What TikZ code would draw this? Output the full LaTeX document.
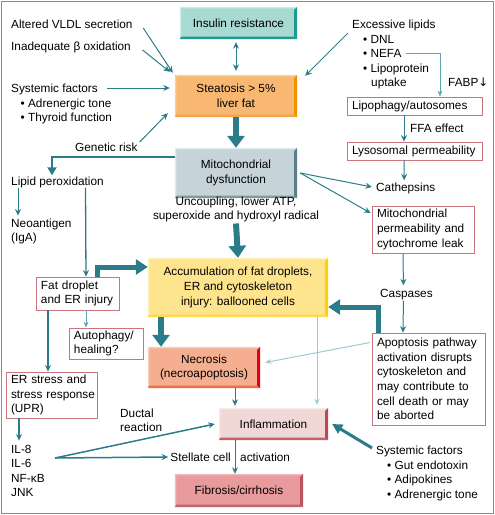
\documentclass[tikz,border=0pt]{standalone}
\usepackage{fontspec}
\setmainfont{Liberation Sans}
\newfontfamily\dejavu{DejaVu Sans}
\usetikzlibrary{arrows.meta,calc}
\definecolor{tealA}{HTML}{2A7C88}
\definecolor{tealL}{HTML}{5FA6B2}
\definecolor{tealVL}{HTML}{9CCAD2}
\definecolor{boxred}{HTML}{C8757D}
\definecolor{frameC}{HTML}{8C8C8C}
\definecolor{insF}{HTML}{A8D9D2}\definecolor{insD}{HTML}{1F9A8C}\definecolor{insL}{HTML}{CDEBE6}
\definecolor{steF}{HTML}{F9B871}\definecolor{steD}{HTML}{F39200}\definecolor{steB}{HTML}{F4A445}\definecolor{steL}{HTML}{FBD09C}
\definecolor{mitF}{HTML}{C6D4D9}\definecolor{mitD}{HTML}{5E7F8A}\definecolor{mitB}{HTML}{7F9AA3}\definecolor{mitL}{HTML}{E0E8EB}
\definecolor{accF}{HTML}{FFE48E}\definecolor{accD}{HTML}{FFD100}\definecolor{accB}{HTML}{FFD84D}\definecolor{accL}{HTML}{FFF0BC}
\definecolor{necF}{HTML}{F5AE90}\definecolor{necD}{HTML}{E2001A}\definecolor{necB}{HTML}{EF6F45}\definecolor{necL}{HTML}{F9CDB9}
\definecolor{infF}{HTML}{EFD8D5}\definecolor{infD}{HTML}{B94A52}\definecolor{infB}{HTML}{C2626A}\definecolor{infL}{HTML}{F7EAE8}
\definecolor{fibF}{HTML}{E89A9C}\definecolor{fibD}{HTML}{B95560}\definecolor{fibB}{HTML}{C0656D}\definecolor{fibL}{HTML}{F1BCBD}
\newcommand\bevelbox[4]{%
\fill[#4] (#1.north west) -- (#1.north east) -- ([xshift=-3pt,yshift=-1.5pt]#1.north east) -- ([xshift=1.5pt,yshift=-1.5pt]#1.north west) -- ([xshift=1.5pt,yshift=2.5pt]#1.south west) -- (#1.south west) -- cycle;
\fill[#3] (#1.south west) -- (#1.south east) -- ([xshift=-3pt,yshift=2.5pt]#1.south east) -- ([xshift=1.5pt,yshift=2.5pt]#1.south west) -- cycle;
\fill[#2] (#1.north east) -- (#1.south east) -- ([xshift=-3pt,yshift=2.5pt]#1.south east) -- ([xshift=-3pt,yshift=-3pt]#1.north east) -- cycle;
}
\begin{document}
\begin{tikzpicture}[x=1pt,y=-1pt,
  every node/.append style={font=\fontsize{11.8}{14.6}\selectfont, inner sep=0pt},
  lbl/.style={anchor=west, text height=8.5pt, text depth=0.5pt},
  mlbl/.style={anchor=north west, align=left},
  bbox/.style={align=center},
  rbox/.style={draw=boxred, line width=0.8pt, fill=white, align=left, inner xsep=5pt, inner ysep=2pt},
  arr/.style={draw=tealA, line width=1pt, -{Stealth[length=6.5pt,width=6pt]}},
  arrboth/.style={draw=tealA, line width=1pt, {Stealth[length=6.5pt,width=6pt]}-{Stealth[length=6.5pt,width=6pt]}},
  arrl/.style={draw=tealL, line width=0.8pt, -{Stealth[length=6pt,width=5pt]}},
  arrvl/.style={draw=tealVL, line width=1pt, -{Stealth[length=6pt,width=5pt]}},
  bigarr/.style={draw=tealA, line width=6pt, -{Triangle[length=12pt,width=17pt]}},
  bigarrb/.style={draw=tealA, line width=5pt, line join=miter, -{Triangle[length=12pt,width=15pt]}},
  medarr/.style={draw=tealA, line width=2.5pt, line join=miter, -{Triangle[length=8pt,width=9pt]}},
  medarrb/.style={draw=tealA, line width=3pt, -{Triangle[length=10pt,width=10pt]}}
]
\useasboundingbox (0,0) rectangle (495,515);
\draw[frameC, line width=1pt] (1,1) rectangle (493,513);

% main bevel boxes
\node[bbox, fill=insF, minimum width=117pt, minimum height=32pt] (ins) at (238.5,23) {Insulin resistance};
\bevelbox{ins}{insD}{insD}{insL}
\node[bbox, fill=steF, minimum width=122pt, minimum height=42pt] (stea) at (236,96) {Steatosis > 5\%\\liver fat};
\bevelbox{stea}{steD}{steB}{steL}
\node[bbox, fill=mitF, minimum width=122pt, minimum height=50pt] (mito) at (236,173) {Mitochondrial\\dysfunction};
\bevelbox{mito}{mitD}{mitB}{mitL}
\node[bbox, fill=accF, minimum width=180pt, minimum height=59pt] (acc) at (238,287.5) {Accumulation of fat droplets,\\ER and cytoskeleton\\injury: ballooned cells};
\bevelbox{acc}{accD}{accB}{accL}
\node[bbox, fill=necF, minimum width=112pt, minimum height=41pt] (nec) at (204,367.5) {Necrosis\\(necroapoptosis)};
\bevelbox{nec}{necD}{necB}{necL}
\node[bbox, fill=infF, minimum width=109pt, minimum height=32pt] (inf) at (273.5,424) {Inflammation};
\bevelbox{inf}{infD}{infB}{infL}
\node[bbox, fill=fibF, minimum width=128pt, minimum height=33pt] (fib) at (239,490.5) {Fibrosis/cirrhosis};
\bevelbox{fib}{fibD}{fibB}{fibL}

% outlined boxes
\node[rbox, text width=125pt, minimum height=18pt] (lipo) at (414.5,106) {Lipophagy/autosomes};
\node[rbox, text width=125pt, minimum height=18pt] (lyso) at (414.5,151) {Lysosomal permeability};
\node[rbox, text width=92pt, minimum height=47pt] (mperm) at (423,229.5) {\mbox{Mitochondrial}\\\mbox{permeability and}\\\mbox{cytochrome leak}};
\node[rbox, text width=103pt, minimum height=92pt] (apop) at (428.5,379) {\mbox{Apoptosis pathway}\\\mbox{activation disrupts}\\\mbox{cytoskeleton and}\\\mbox{may contribute to}\\\mbox{cell death or may}\\\mbox{be aborted}};
\node[rbox, text width=73pt, minimum height=33pt] (fatb) at (77.5,293.5) {\mbox{Fat droplet}\\\mbox{and ER injury}};
\node[rbox, text width=64pt, minimum height=31pt] (auto) at (106,343.5) {\mbox{Autophagy/}\\\mbox{healing?}};
\node[rbox, text width=81pt, minimum height=46pt] (er) at (51.5,395) {\mbox{ER stress and}\\\mbox{stress response}\\\mbox{(UPR)}};

% labels
\node[lbl] (vldl) at (11,24) {Altered VLDL secretion};
\node[lbl] (beta) at (11,46) {Inadequate β oxidation};
\node[lbl] (sysl) at (11,88) {Systemic factors};
\node[mlbl] (sysb) at (20.5,98.6) {• Adrenergic tone\\• Thyroid function};
\node[lbl] (gen) at (75,147) {Genetic risk};
\node[lbl] (lipid) at (11,181) {Lipid peroxidation};
\node[mlbl] (neo) at (11,218.6) {Neoantigen\\(IgA)};
\node[mlbl] (il) at (11,444.6) {IL-8\\IL-6\\NF-κB\\JNK};
\coordinate (ilc) at (55,458);
\node[mlbl] (duct) at (120,408.6) {Ductal\\reaction};
\node[lbl, anchor=east] (stel) at (231,457) {Stellate cell};
\node[lbl] (actv) at (240,457) {activation};
\node[align=center] (unc) at (236,209.5) {Uncoupling, lower ATP,\\superoxide and hydroxyl radical};
\node[lbl] (exl) at (352,24) {Excessive lipids};
\node[lbl] (dnl) at (363,39) {• DNL};
\node[lbl] (nefa) at (363,53) {• NEFA};
\node[lbl] (lipop) at (363,68) {• Lipoprotein};
\node[lbl] (upt) at (371,82) {uptake};
\node[lbl] (fabp) at (448,82) {FABP{\dejavu ↓}};
\node[lbl] (ffa) at (410,128) {FFA effect};
\node[lbl] (cath) at (376,187) {Cathepsins};
\node[lbl] (casp) at (380,293) {Caspases};
\node[lbl] (sysr) at (376,450) {Systemic factors};
\node[mlbl] (sysrb) at (387,460.6) {• Gut endotoxin\\• Adipokines\\• Adrenergic tone};

% connectors
\draw[arr] ([xshift=10.5pt,yshift=-4pt]vldl.east) -- ([xshift=-2pt,yshift=2pt]stea.north west);
\draw[arr] ([xshift=11.5pt,yshift=-4pt]beta.east) -- ([xshift=-5pt,yshift=3pt]stea.north west);
\draw[arr] ([xshift=9pt]sysl.east) -- ([xshift=-5pt,yshift=8pt]stea.west);
\draw[arr] ([xshift=2pt,yshift=5pt]gen.east) -- ([xshift=-7pt,yshift=4pt]stea.south west);
\draw[arrboth] ([xshift=-2.5pt,yshift=-3pt]ins.south) -- ([yshift=4pt]stea.north);
\draw[arr] ([xshift=-4pt,yshift=-9pt]exl.west) -- ([xshift=8pt,yshift=-1pt]stea.north east);
\draw[bigarr] (stea.south) -- (mito.north);
\draw[medarr] ([yshift=16pt]mito.west) -| ([xshift=41pt,yshift=1pt]lipid.north west);
\draw[arr] ([xshift=7pt,yshift=-2pt]lipid.south west) -- ([xshift=7pt,yshift=3pt]neo.north west);
\draw[arr, line width=1.3pt] ([xshift=74.5pt,yshift=-2pt]lipid.south west) -- ([xshift=8.5pt]fatb.north);
\draw[bigarrb] ([xshift=19.5pt]fatb.north) |- ([yshift=20.5pt]acc.west);
\draw[arrl] ([xshift=8.5pt]fatb.south) -- ([xshift=-20pt]auto.north);
\draw[arr, line width=2pt] ([xshift=-29.5pt]fatb.south) -- ([xshift=-3.5pt]er.north);
\draw[arr, line width=1.5pt] ([xshift=-32.5pt]er.south) -- ([xshift=8pt,yshift=4pt]il.north west);
\draw[arr, line width=1.5pt] (ilc) -- ([xshift=-2pt]stel.west);
\draw[arr, line width=1.5pt] (ilc) -- ([xshift=-4pt]inf.west);
\draw[bigarr] ([yshift=-1pt]unc.south) -- (acc.north);
\draw[bigarr] ([xshift=-77pt]acc.south) -- ([xshift=-43pt]nec.north);
\draw[arrvl] ([xshift=79pt]acc.south) -- ([xshift=43.5pt,yshift=3pt]inf.north);
\draw[arr, line width=0.7pt] ([xshift=31pt]nec.south) -- ([xshift=-38.5pt,yshift=2pt]inf.north);
\draw[arr, line width=0.7pt] ([xshift=-38.5pt]inf.south) -- ([xshift=-4pt]fib.north);
\draw[medarrb] ([xshift=-4pt,yshift=2pt]sysr.west) -- ([xshift=4pt]inf.east);
\draw[arrvl] ([xshift=-2pt,yshift=-10pt]apop.north west) -- ([xshift=5pt,yshift=5pt]nec.east);
\draw[bigarrb] ([xshift=-50.5pt]apop.north) |- ([yshift=-19.5pt]acc.east);
\draw[arr] ([xshift=3pt]mito.east) -- ([xshift=-4pt]cath.west);
\draw[arr] ([xshift=3pt]mito.east) -- ([xshift=-1pt,yshift=16.5pt]mperm.west);
\draw[arr] ([xshift=-10.5pt]lipo.south) -- ([xshift=-10.5pt]lyso.north);
\draw[arr] ([xshift=-10.5pt]lyso.south) -- ([xshift=-1.5pt,yshift=2pt]cath.north);
\draw[arr] ([xshift=-20pt]mperm.south) -- ([xshift=-3pt,yshift=3pt]casp.north);
\draw[arr] ([xshift=-3pt,yshift=-3pt]casp.south) -- ([xshift=-25.5pt]apop.north);
\draw[arrl] ([xshift=4pt]nefa.east) -| ([xshift=25.5pt]lipo.north);
\end{tikzpicture}
\end{document}
